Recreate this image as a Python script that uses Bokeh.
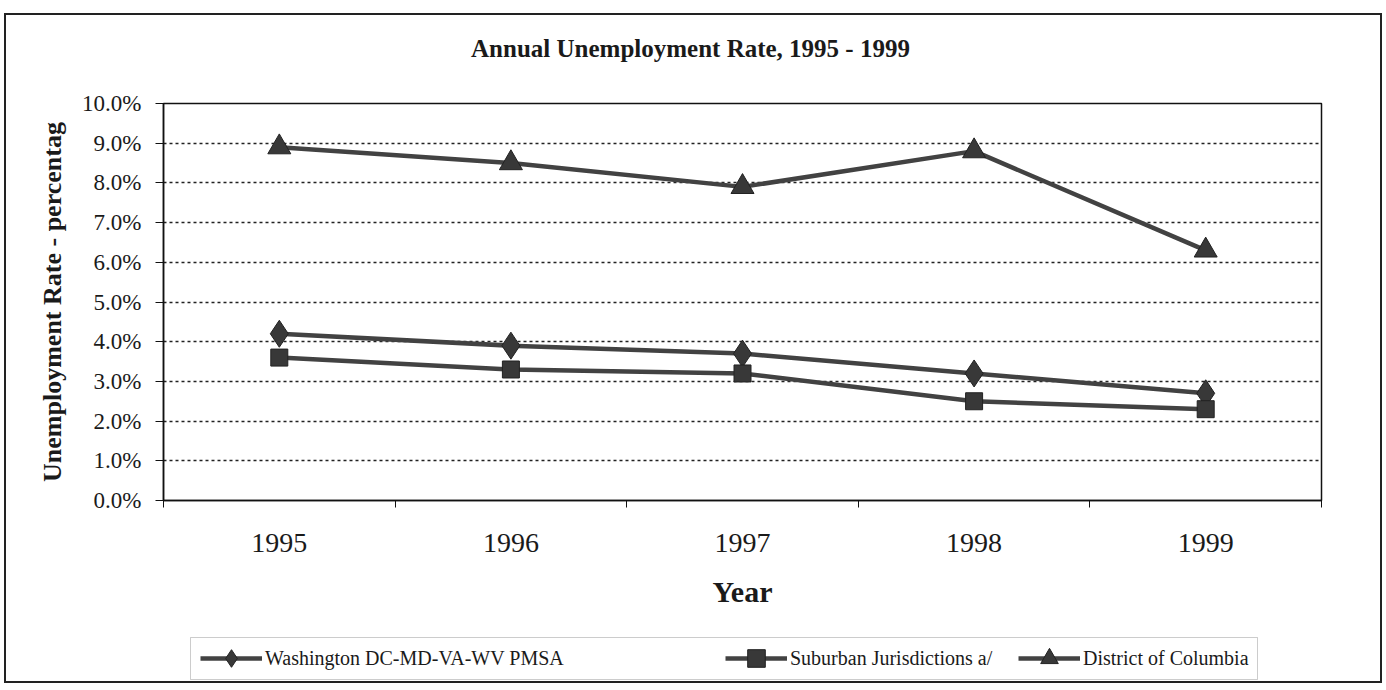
from bokeh.plotting import figure
from bokeh.layouts import column
from bokeh.models import (Range1d, FixedTicker, PrintfTickFormatter, Legend, LegendItem,
                          BoxAnnotation, Label)
from bokeh.embed import file_html
from bokeh.resources import INLINE

# ---- data ----
years = ["1995", "1996", "1997", "1998", "1999"]
pmsa = [4.2, 3.9, 3.7, 3.2, 2.7]
suburban = [3.6, 3.3, 3.2, 2.5, 2.3]
dc = [8.9, 8.5, 7.9, 8.8, 6.3]
y_ticks = [0, 1, 2, 3, 4, 5, 6, 7, 8, 9, 10]
series_names = ["Washington DC-MD-VA-WV PMSA", "Suburban Jurisdictions a/", "District of Columbia"]
title_text = "Annual Unemployment Rate, 1995 - 1999"

xs = [i + 0.5 for i in range(len(years))]
bounds = list(range(len(years) + 1))

SERIF = "Liberation Serif"
W = 1374
BL, BR = 157, 59          # left / right borders shared by all stacked figures
FW = W - BL - BR          # frame width in px
H0, H1, H2 = 73, 537, 56  # title strip, chart, legend strip


def strip(height, top=0, bottom=0):
    f = figure(width=W, height=height, output_backend="svg", toolbar_location=None,
               x_range=Range1d(0, FW), y_range=Range1d(0, height - top - bottom),
               x_axis_type=None, y_axis_type=None,
               min_border_left=BL, min_border_right=BR,
               min_border_top=top, min_border_bottom=bottom,
               background_fill_color="white", border_fill_color="white")
    f.xgrid.visible = False
    f.ygrid.visible = False
    f.outline_line_color = None
    return f


# ---- title strip ----
t = strip(H0)
t.add_layout(Label(x=527, y=40, text=title_text, text_font=SERIF, text_font_size="25px",
                   text_font_style="bold", text_color="#1a1a1a",
                   text_align="center", text_baseline="middle"))

# ---- main chart ----
p = figure(width=W, height=H1, output_backend="svg", toolbar_location=None,
           x_range=Range1d(0, len(years)), y_range=Range1d(0, 10),
           min_border_left=BL, min_border_right=BR,
           min_border_top=15, min_border_bottom=125,
           background_fill_color="white", border_fill_color="white")

p.outline_line_color = "#111111"
p.outline_line_width = 1.5

p.xgrid.visible = False
p.ygrid.ticker = FixedTicker(ticks=y_ticks)
p.ygrid.grid_line_color = "#222222"
p.ygrid.grid_line_dash = "3 3"
p.ygrid.grid_line_width = 1.5

ya = p.yaxis[0]
ya.ticker = FixedTicker(ticks=y_ticks)
ya.formatter = PrintfTickFormatter(format="%.1f%%")
ya.major_label_text_font = SERIF
ya.major_label_text_font_size = "23px"
ya.major_label_text_color = "#1a1a1a"
ya.major_tick_out = 8
ya.major_tick_in = 0
ya.minor_tick_out = 0
ya.minor_tick_in = 0
ya.major_label_standoff = 14
ya.axis_line_color = "#111111"
ya.axis_line_width = 1.5
ya.major_tick_line_color = "#111111"
ya.axis_label = "Unemployment Rate - percentag"
ya.axis_label_text_font = SERIF
ya.axis_label_text_font_style = "bold"
ya.axis_label_text_font_size = "26px"
ya.axis_label_text_color = "#1a1a1a"
ya.axis_label_standoff = 12

xa = p.xaxis[0]
xa.ticker = FixedTicker(ticks=xs, minor_ticks=bounds)
xa.major_label_overrides = {x: y for x, y in zip(xs, years)}
xa.major_label_text_font = SERIF
xa.major_label_text_font_size = "28px"
xa.major_label_text_color = "#1a1a1a"
xa.major_tick_out = 0
xa.major_tick_in = 0
xa.minor_tick_out = 7
xa.minor_tick_in = 0
xa.minor_tick_line_color = "#111111"
xa.major_label_standoff = 26
xa.axis_line_color = "#111111"
xa.axis_line_width = 1.5
xa.axis_label = "Year"
xa.axis_label_text_font = SERIF
xa.axis_label_text_font_style = "bold"
xa.axis_label_text_font_size = "30px"
xa.axis_label_text_color = "#1a1a1a"
xa.axis_label_standoff = 20

LINE = "#424242"
MFILL = "#383838"
MLINE = "#222222"

series = [
    (pmsa, "diamond", 27),
    (suburban, "square", 17),
    (dc, "triangle", 23),
]

for vals, marker, size in series:
    p.line(xs, vals, line_color=LINE, line_width=4.5)
    p.scatter(xs, vals, marker=marker, size=size, fill_color=MFILL,
              line_color=MLINE, line_width=1)

# ---- legend strip ----
q = strip(H2, top=11, bottom=1)
q.add_layout(BoxAnnotation(left=27, right=1094, bottom=1, top=43,
                           fill_alpha=0, line_color="#555555", line_width=1))

nan = float("nan")
leg_x = [35, 560, 853]
for name, (vals, marker, size), lx in zip(series_names, series, leg_x):
    lr = q.line(x=[nan], y=[nan], line_color=LINE, line_width=4.5)
    sr = q.scatter(x=[nan], y=[nan], marker=marker, size=size, fill_color=MFILL,
                   line_color=MLINE, line_width=1)
    lg = Legend(items=[LegendItem(label=name, renderers=[lr, sr])], location=(lx, -2),
                orientation="horizontal")
    lg.label_text_font = SERIF
    lg.label_text_font_size = "20px"
    lg.label_text_color = "#1a1a1a"
    lg.glyph_width = 62
    lg.glyph_height = 44
    lg.label_standoff = 3
    lg.padding = 2
    lg.spacing = 0
    lg.margin = 0
    lg.border_line_alpha = 0
    lg.background_fill_alpha = 0
    q.add_layout(lg, "center")

layout = column(t, p, q, spacing=0,
                styles={"border": "2px solid #222222", "margin": "13px 0 0 4px"})

open("out.html", "w").write(file_html(layout, INLINE))
